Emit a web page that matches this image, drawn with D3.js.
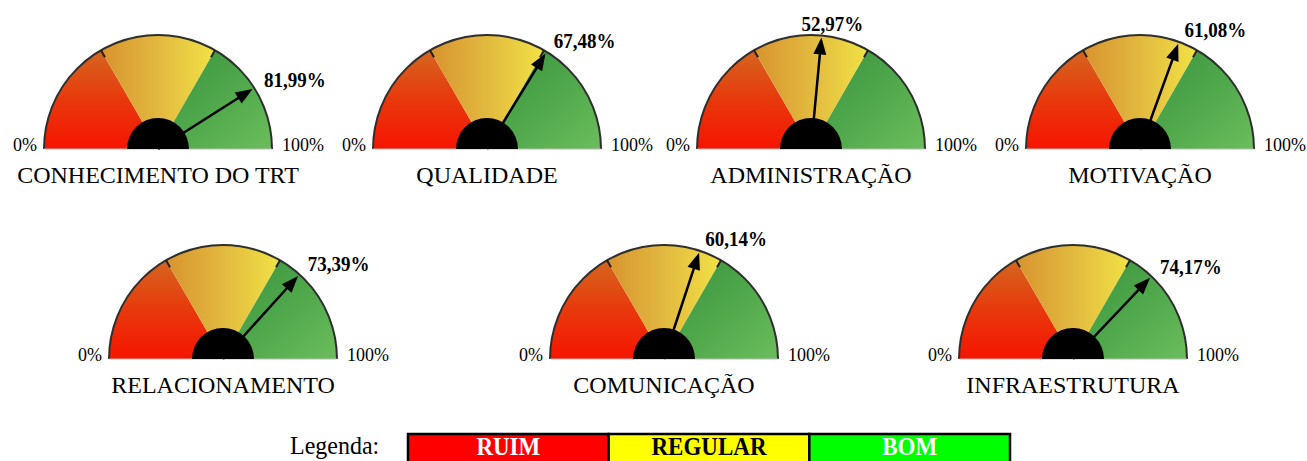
<!DOCTYPE html>
<html>
<head>
<meta charset="utf-8">
<script src="https://cdn.jsdelivr.net/npm/d3@7"></script>
<style>
  body { margin: 0; background: #fff; }
  svg { display: block; font-family: "Liberation Serif", "Times New Roman", serif; }
</style>
</head>
<body>
<svg id="chart" width="1307" height="461"></svg>
<script>
// data
const categories = ["CONHECIMENTO DO TRT", "QUALIDADE", "ADMINISTRAÇÃO", "MOTIVAÇÃO",
                    "RELACIONAMENTO", "COMUNICAÇÃO", "INFRAESTRUTURA"];
const values = [81.99, 67.48, 52.97, 61.08, 73.39, 60.14, 74.17];
const zones = ["RUIM", "REGULAR", "BOM"];
const zoneBreaks = [0, 100 / 3, 200 / 3, 100];
const scaleLabels = ["0%", "100%"];

// layout of the small multiples (panel centers / baselines)
const panels = [
  { x: 158, y: 149 }, { x: 487, y: 149 }, { x: 811, y: 149 }, { x: 1140, y: 149 },
  { x: 223, y: 359 }, { x: 664, y: 359 }, { x: 1073, y: 359 }
];
const R = 114, hubR = 31;

const svg = d3.select("#chart");
svg.append("rect").attr("width", 1307).attr("height", 461).attr("fill", "#fff");

// gradients for the three zones
const defs = svg.append("defs");
function grad(id, x1, y1, x2, y2, stops) {
  const g = defs.append("linearGradient").attr("id", id)
    .attr("x1", x1).attr("y1", y1).attr("x2", x2).attr("y2", y2);
  stops.forEach(([o, c]) => g.append("stop").attr("offset", o).attr("stop-color", c));
}
grad("g-ruim", 0, 1, 0, 0, [[0, "#f61400"], [0.5, "#e8390c"], [1, "#d4661f"]]);
grad("g-regular", 0, 0, 1, 0, [[0, "#d8932e"], [0.5, "#e2b93f"], [1, "#f1e245"]]);
grad("g-bom", 0, 0, 1, 1, [[0, "#3a933d"], [0.5, "#4ea74a"], [1, "#6cbd5c"]]);
const zoneFill = d3.scaleOrdinal().domain(zones).range(["url(#g-ruim)", "url(#g-regular)", "url(#g-bom)"]);

const angle = d3.scaleLinear().domain([0, 100]).range([-Math.PI / 2, Math.PI / 2]);
const arc = d3.arc().innerRadius(0).outerRadius(R);
const fmt = v => d3.format(".2f")(v).replace(".", ",") + "%";

const gauges = svg.selectAll(".gauge")
  .data(categories.map((c, i) => ({ name: c, value: values[i], ...panels[i] })))
  .join("g")
  .attr("class", "gauge")
  .attr("transform", d => `translate(${d.x},${d.y})`);

// zone sectors
gauges.selectAll(".zone")
  .data(zones.map((z, i) => ({ zone: z, a0: zoneBreaks[i], a1: zoneBreaks[i + 1] })))
  .join("path")
  .attr("class", "zone")
  .attr("d", d => arc({ startAngle: angle(d.a0), endAngle: angle(d.a1) }))
  .attr("fill", d => zoneFill(d.zone));

// outline
gauges.append("path")
  .attr("d", d3.arc().innerRadius(R).outerRadius(R)({ startAngle: angle(0), endAngle: angle(100) }))
  .attr("fill", "none")
  .attr("stroke", "#2e2e2e")
  .attr("stroke-width", 2);

gauges.append("line")
  .attr("x1", -R).attr("x2", R).attr("y1", 0).attr("y2", 0)
  .attr("stroke", "#bbb").attr("stroke-width", 1);

// zone ticks
gauges.selectAll(".tick")
  .data(zoneBreaks.slice(1, 3))
  .join("line")
  .attr("class", "tick")
  .attr("x1", v => Math.sin(angle(v)) * R)
  .attr("y1", v => -Math.cos(angle(v)) * R)
  .attr("x2", v => Math.sin(angle(v)) * (R - 8))
  .attr("y2", v => -Math.cos(angle(v)) * (R - 8))
  .attr("stroke", "#222").attr("stroke-width", 2);

// needle
const tipR = 112, headL = 17, headW = 6.5;
gauges.append("line")
  .attr("x1", 0).attr("y1", 0)
  .attr("x2", d => Math.sin(angle(d.value)) * (tipR - headL + 2))
  .attr("y2", d => -Math.cos(angle(d.value)) * (tipR - headL + 2))
  .attr("stroke", "#000").attr("stroke-width", 2.5);

gauges.append("path")
  .attr("d", d => {
    const a = angle(d.value), s = Math.sin(a), c = Math.cos(a);
    const tx = s * tipR, ty = -c * tipR;
    const bx = s * (tipR - headL), by = -c * (tipR - headL);
    // perpendicular
    const px = c * headW, py = s * headW;
    return `M${tx},${ty}L${bx + px},${by + py}L${bx - px},${by - py}Z`;
  })
  .attr("fill", "#000");

// hub
gauges.append("path")
  .attr("d", d3.arc().innerRadius(0).outerRadius(hubR)({ startAngle: -Math.PI / 2, endAngle: Math.PI / 2 }))
  .attr("fill", "#000");

// value label
gauges.append("g")
  .attr("transform", d => {
    const a = angle(d.value);
    const x = Math.sin(a) * 122 + (Math.abs(d.value - 50) < 6 ? 10 : 3);
    const y = -Math.cos(a) * 122 + 3;
    return `translate(${x},${y}) scale(1,1.12)`;
  })
  .append("text")
  .attr("text-anchor", d => Math.abs(d.value - 50) < 6 ? "middle" : "start")
  .attr("font-weight", "bold")
  .attr("font-size", 19)
  .text(d => fmt(d.value));

// 0% / 100%
gauges.append("text")
  .attr("x", -R - 7).attr("y", 2)
  .attr("text-anchor", "end")
  .attr("font-size", 18)
  .text(scaleLabels[0]);
gauges.append("text")
  .attr("x", R + 10).attr("y", 2)
  .attr("text-anchor", "start")
  .attr("font-size", 18)
  .text(scaleLabels[1]);

// titles
gauges.append("text")
  .attr("x", 0).attr("y", 34)
  .attr("text-anchor", "middle")
  .attr("font-size", 24)
  .text(d => d.name);

// legend
const legendX = d3.scaleBand().domain(zones).range([408, 1010]);
const legendColor = d3.scaleOrdinal().domain(zones).range(["#ff0000", "#ffff00", "#00ff00"]);
const legendText = d3.scaleOrdinal().domain(zones).range(["#fff", "#000", "#fff"]);
const legend = svg.append("g");

legend.append("g")
  .attr("transform", "translate(290,454) scale(1,1.05)")
  .append("text")
  .attr("font-size", 24)
  .text("Legenda:");

legend.selectAll("rect")
  .data(zones)
  .join("rect")
  .attr("x", d => legendX(d))
  .attr("y", 434)
  .attr("width", legendX.bandwidth())
  .attr("height", 40)
  .attr("fill", d => legendColor(d))
  .attr("stroke", "#000")
  .attr("stroke-width", 2.5);

legend.selectAll(".lbl")
  .data(zones)
  .join("g")
  .attr("class", "lbl")
  .attr("transform", d => `translate(${legendX(d) + legendX.bandwidth() / 2},455) scale(1,1.05)`)
  .append("text")
  .attr("text-anchor", "middle")
  .attr("font-size", 23)
  .attr("font-weight", "bold")
  .attr("fill", d => legendText(d))
  .text(d => d);
</script>
</body>
</html>
